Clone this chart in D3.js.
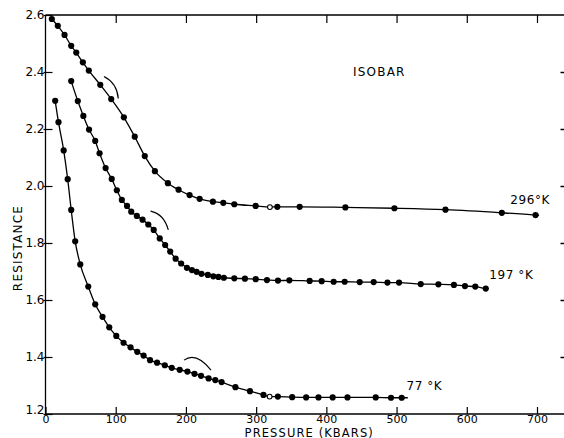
<!DOCTYPE html>
<html><head><meta charset="utf-8">
<script src="https://cdn.jsdelivr.net/npm/d3@7"></script>
<style>
body{margin:0;background:#fff;}
svg{display:block;font-family:"DejaVu Sans",sans-serif;}
</style></head>
<body><svg id="c" width="564" height="438"></svg>
<script>
// ---- data ----
const xTicks = [0,100,200,300,400,500,600,700];
const yTicks = [1.2,1.4,1.6,1.8,2.0,2.2,2.4,2.6];
const yTickLabels = ["1.2","1.4","1.6","1.8","2.0","2.2","2.4","2.6"];

const p296 = [9.0,17.5,27.1,36.6,43.8,53.2,61.7,78.0,93.6,111.6,127.1,141.4,155.8,174.3,189.5,205.2,219.5,238.4,253.2,268.9,299.3,319.6,330.2,362.0,427.1,496.9,569.6,649.9,697.9];
const r296 = [2.586,2.562,2.530,2.492,2.468,2.434,2.405,2.355,2.305,2.241,2.173,2.105,2.052,2.010,1.987,1.968,1.955,1.945,1.941,1.936,1.930,1.926,1.927,1.927,1.925,1.922,1.917,1.906,1.898];
const hollow296 = [319.6];

const p197 = [36.6,46.0,53.9,62.0,70.8,77.0,85.6,94.3,101.6,108.7,116.1,122.1,130.1,138.2,146.4,154.1,162.7,170.4,177.6,185.3,193.2,201.4,208.5,215.2,222.1,231.2,239.0,246.3,254.0,268.9,284.0,299.4,315.4,331.1,347.3,376.2,393.3,410.4,426.1,447.5,467.4,487.0,503.5,534.4,559.6,581.7,597.4,612.1,627.0];
const r197 = [2.368,2.298,2.246,2.198,2.158,2.115,2.063,2.025,1.985,1.951,1.930,1.910,1.895,1.882,1.865,1.846,1.816,1.793,1.770,1.745,1.728,1.713,1.705,1.699,1.692,1.688,1.683,1.681,1.678,1.676,1.675,1.673,1.670,1.668,1.669,1.667,1.666,1.664,1.664,1.663,1.663,1.661,1.661,1.656,1.655,1.653,1.649,1.647,1.640];
const hollow197 = [];

const p77 = [13.8,18.5,25.9,31.6,36.6,42.3,49.5,60.9,70.8,81.2,90.8,100.8,111.2,121.1,130.7,139.7,148.9,158.9,169.9,179.8,191.1,202.1,212.2,221.5,232.3,241.8,250.8,270.5,291.2,310.4,319.2,330.9,351.3,371.2,388.8,409.0,430.1,470.3,492.1,507.3];
const r77 = [2.299,2.224,2.125,2.024,1.916,1.806,1.725,1.647,1.585,1.541,1.504,1.474,1.450,1.434,1.418,1.405,1.389,1.380,1.371,1.362,1.355,1.349,1.341,1.334,1.325,1.319,1.312,1.294,1.280,1.267,1.261,1.261,1.259,1.258,1.258,1.258,1.258,1.258,1.257,1.257];
const hollow77 = [319.2];

// line end-extensions past last point
const lineEnd296 = [703, 1.897];
const lineEnd197 = [631, 1.639];
const lineEnd77 = [516, 1.257];

// small arcs: start, control, end (pressure, resistance)
const arc296 = [[83.3,2.384],[101.8,2.361],[103.7,2.307]];
const arc197 = [[149.6,1.912],[168.8,1.902],[174.9,1.846]];
const arc77  = [[197.3,1.389],[214.4,1.419],[235.7,1.354]];

const seriesLabels = ["296°K","197 °K","77 °K"];
const labelPos = [[662,1.937],[632,1.673],[514,1.284]];

// ---- drawing ----
const svg = d3.select("#c");
const x = d3.scaleLinear().domain([0,700]).range([45.5,537]);
const y = d3.scaleLinear().domain([1.2,2.6]).range([414,15]);
const xRight = 565.5;

const g = svg.append("g");
// frame
g.append("path").attr("d",`M${x(0)},${y(2.6)}H${xRight+2}M${x(0)},${y(1.2)}H${xRight+2}M${x(0)},${y(2.6)}V${y(1.2)}M${xRight},${y(2.6)}V${y(1.2)}`)
 .attr("stroke","#000").attr("stroke-width",1.3).attr("fill","none");

const tl = 7;
// bottom axis
const ax = d3.axisBottom(x).tickValues(xTicks).tickSize(-tl).tickPadding(1.5).tickFormat(d3.format("d"));
const gx = svg.append("g").attr("transform",`translate(0,${y(1.2)})`).call(ax);
gx.select(".domain").remove();
gx.selectAll("line").attr("stroke","#000").attr("stroke-width",1.2);
gx.selectAll("text").attr("font-size",11).attr("fill","#000").attr("font-family","DejaVu Sans");
// top ticks
const axT = d3.axisTop(x).tickValues(xTicks.slice(1)).tickSize(-8).tickFormat("");
const gt = svg.append("g").attr("transform",`translate(0,${y(2.6)})`).call(axT);
gt.select(".domain").remove();
gt.selectAll("line").attr("stroke","#000").attr("stroke-width",1.2);
// left axis
const ay = d3.axisLeft(y).tickValues(yTicks).tickSize(-tl).tickPadding(3).tickFormat((d,i)=>yTickLabels[i]);
const gy = svg.append("g").attr("transform",`translate(${x(0)},0)`).call(ay);
gy.select(".domain").remove();
gy.selectAll("line").attr("stroke","#000").attr("stroke-width",1.2).attr("x1",-2);
gy.selectAll("text").attr("font-size",12).attr("fill","#000").attr("font-family","DejaVu Sans").attr("x",-1)
  .attr("dy",(d,i)=>i===0?"-0.05em":"0.32em");
// right ticks
const ayR = d3.axisRight(y).tickValues(yTicks.slice(1,-1)).tickSize(-5).tickFormat("");
const gr = svg.append("g").attr("transform",`translate(${xRight},0)`).call(ayR);
gr.select(".domain").remove();
gr.selectAll("line").attr("stroke","#000").attr("stroke-width",1.5);

// axis titles
svg.append("text").attr("x",(x(0)+x(700))/2+18).attr("y",436.5).attr("text-anchor","middle")
  .attr("font-size",11.5).attr("letter-spacing",1.1).text("PRESSURE (KBARS)");
svg.append("text").attr("transform","translate(22,248) rotate(-90)").attr("text-anchor","middle")
  .attr("font-size",12).attr("letter-spacing",1.2).text("RESISTANCE");
svg.append("text").attr("x",x(438)).attr("y",y(2.386)).attr("font-size",12).attr("letter-spacing",1.2).text("ISOBAR");

// series
const line = d3.line().x(d=>x(d[0])).y(d=>y(d[1])).curve(d3.curveMonotoneX);
const series = [
  {p:p296,r:r296,h:hollow296,end:lineEnd296,arc:arc296},
  {p:p197,r:r197,h:hollow197,end:lineEnd197,arc:arc197},
  {p:p77,r:r77,h:hollow77,end:lineEnd77,arc:arc77}
];
series.forEach((s,k)=>{
  const pts = s.p.map((v,i)=>[v,s.r[i]]);
  svg.append("path").attr("d",line(pts.concat([s.end]))).attr("fill","none").attr("stroke","#000").attr("stroke-width",1.3);
  svg.append("g").selectAll("circle").data(pts).join("circle")
    .attr("cx",d=>x(d[0])).attr("cy",d=>y(d[1])).attr("r",d=>s.h.includes(d[0])?2.4:3.1)
    .attr("fill",d=>s.h.includes(d[0])?"#fff":"#000")
    .attr("stroke","#000").attr("stroke-width",d=>s.h.includes(d[0])?1.1:0);
  const a = s.arc;
  svg.append("path").attr("d",`M${x(a[0][0])},${y(a[0][1])}Q${x(a[1][0])},${y(a[1][1])} ${x(a[2][0])},${y(a[2][1])}`)
    .attr("fill","none").attr("stroke","#000").attr("stroke-width",1.2);
  svg.append("text").attr("x",x(labelPos[k][0])).attr("y",y(labelPos[k][1])).attr("font-size",12).attr("letter-spacing",0.6)
    .text(seriesLabels[k]);
});
</script></body></html>
